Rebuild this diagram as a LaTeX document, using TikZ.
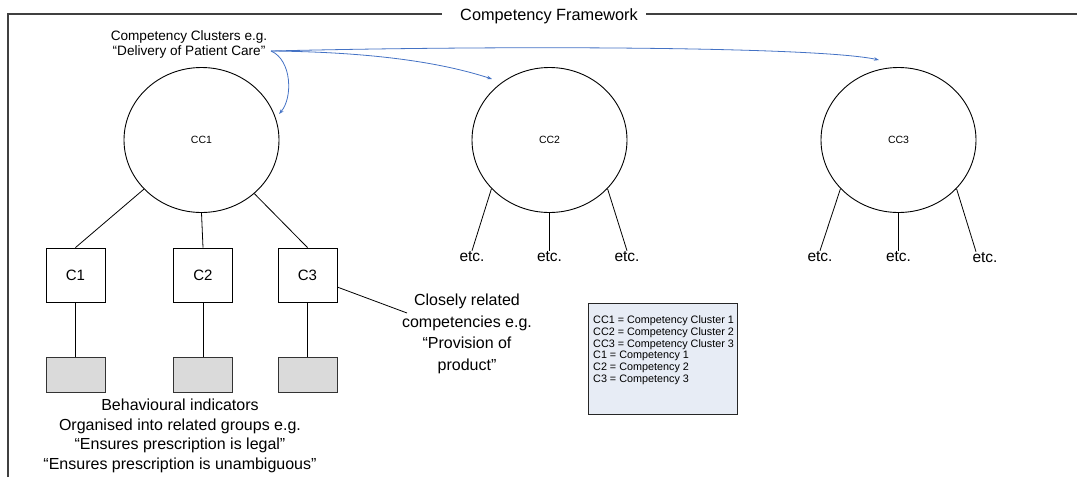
\documentclass[tikz,border=0pt]{standalone}
\usepackage{fontspec}
\setmainfont{Liberation Sans}
\usetikzlibrary{shapes.geometric,arrows.meta}
\definecolor{linkblue}{RGB}{68,114,196}
\definecolor{legendfill}{RGB}{231,236,245}
\definecolor{framegray}{RGB}{64,64,64}
\definecolor{indfill}{RGB}{218,218,218}
\tikzset{
  cluster/.style={draw=black, line width=0.9pt, ellipse, minimum width=155pt, minimum height=145pt, inner sep=0pt, font=\fontsize{10.5}{12}\selectfont},
  compbox/.style={draw=black, line width=0.9pt, rectangle, minimum width=59pt, minimum height=54pt, inner sep=0pt, font=\fontsize{15}{18}\selectfont},
  indbox/.style={draw=black!80, line width=1pt, fill=indfill, rectangle, minimum width=59pt, minimum height=35pt, inner sep=0pt},
  etclabel/.style={inner sep=1pt, font=\fontsize{15.5}{18}\selectfont},
  link/.style={line width=0.8pt, black},
  bluelink/.style={draw=linkblue, line width=0.8pt, -{Stealth[length=5pt,width=3.5pt]}},
  caption/.style={align=center, inner sep=0pt},
}
\begin{document}
\begin{tikzpicture}[x=1pt, y=-1pt]
  \useasboundingbox (0,0) rectangle (1077,477);

  % framework border with title
  \node[inner sep=0pt, font=\fontsize{16.3}{19}\selectfont] (title) at (549,16) {Competency Framework};
  \coordinate (frtl) at (8,14);
  \coordinate (frbl) at (8,477);
  \coordinate (frtr) at (1077,14);
  \draw[framegray, line width=1.3pt] (frbl) -- (frtl) -- (442,14);
  \draw[framegray, line width=1.3pt] (646,14) -- (frtr);

  % competency clusters
  \node[cluster] (cc1) at (201.5,140) {CC1};
  \node[cluster] (cc2) at (549.5,140) {CC2};
  \node[cluster] (cc3) at (898.5,140) {CC3};

  % caption and blue pointers
  \node[caption, font=\fontsize{13.6}{15}\selectfont] (cctext) at (189,44.5)
    {Competency Clusters e.g.\\“Delivery of Patient Care”};
  \coordinate (ccsrc) at (271,51);
  \coordinate (tip1) at (279,114);
  \coordinate (tip2) at (492,79);
  \coordinate (tip3) at (879,60);
  \draw[bluelink] (ccsrc) .. controls (292,60) and (293,98) .. (tip1);
  \draw[bluelink] (ccsrc) .. controls (370,52) and (440,62) .. (tip2);
  \draw[bluelink] (ccsrc) .. controls (520,45) and (820,47) .. (tip3);

  % competencies
  \node[compbox] (c1) at (75.5,275) {C1};
  \node[compbox] (c2) at (203,275) {C2};
  \node[compbox] (c3) at (307.5,275) {C3};
  \draw[link] (cc1) -- (c1.north);
  \draw[link] (cc1.south) -- (c2.north);
  \draw[link] (cc1) -- (c3.north);

  % behavioural indicator groups
  \node[indbox] (b1) at (75.5,374.5) {};
  \node[indbox] (b2) at (203,374.5) {};
  \node[indbox] (b3) at (307.5,374.5) {};
  \draw[link] (c1.south) -- (b1.north);
  \draw[link] (c2.south) -- (b2.north);
  \draw[link] (c3.south) -- (b3.north);

  \node[caption, font=\fontsize{16}{19.7}\selectfont] (bitext) at (180,436)
    {Behavioural indicators\\Organised into related groups e.g.\\“Ensures prescription is legal”\\“Ensures prescription is unambiguous”};

  % related competencies note
  \node[caption, font=\fontsize{16}{21.6}\selectfont] (closely) at (467,334)
    {Closely related\\competencies e.g.\\“Provision of\\product”};
  \coordinate (clend) at (407,313);
  \draw[link] (c3.-22) -- (clend);

  % further branches of CC2 and CC3
  \node[etclabel] (e21) at (472,257) {etc.};
  \node[etclabel] (e22) at (549.5,257) {etc.};
  \node[etclabel] (e23) at (627,257) {etc.};
  \node[etclabel] (e31) at (820,257) {etc.};
  \node[etclabel] (e32) at (898.5,257) {etc.};
  \node[etclabel] (e33) at (985,258) {etc.};
  \draw[link] (cc2.220) -- (e21.north);
  \draw[link] (cc2.south) -- (e22.north);
  \draw[link] (cc2.320) -- (e23.north);
  \draw[link] (cc3.220) -- (e31.north);
  \draw[link] (cc3.south) -- (e32.north);
  \draw[link] (cc3.320) -- ([xshift=-9pt]e33.north);

  % legend
  \node[draw=black!85, line width=1pt, fill=legendfill, rectangle, anchor=north west,
        minimum width=149pt, minimum height=111pt, inner sep=0pt] (legend) at (588,303) {};
  \node[anchor=north west, inner sep=0pt, align=left, font=\fontsize{10.8}{11.8}\selectfont] (legendtext) at (593,315.5)
    {CC1 = Competency Cluster 1\\CC2 = Competency Cluster 2\\CC3 = Competency Cluster 3\\C1 = Competency 1\\C2 = Competency 2\\C3 = Competency 3};
\end{tikzpicture}
\end{document}
